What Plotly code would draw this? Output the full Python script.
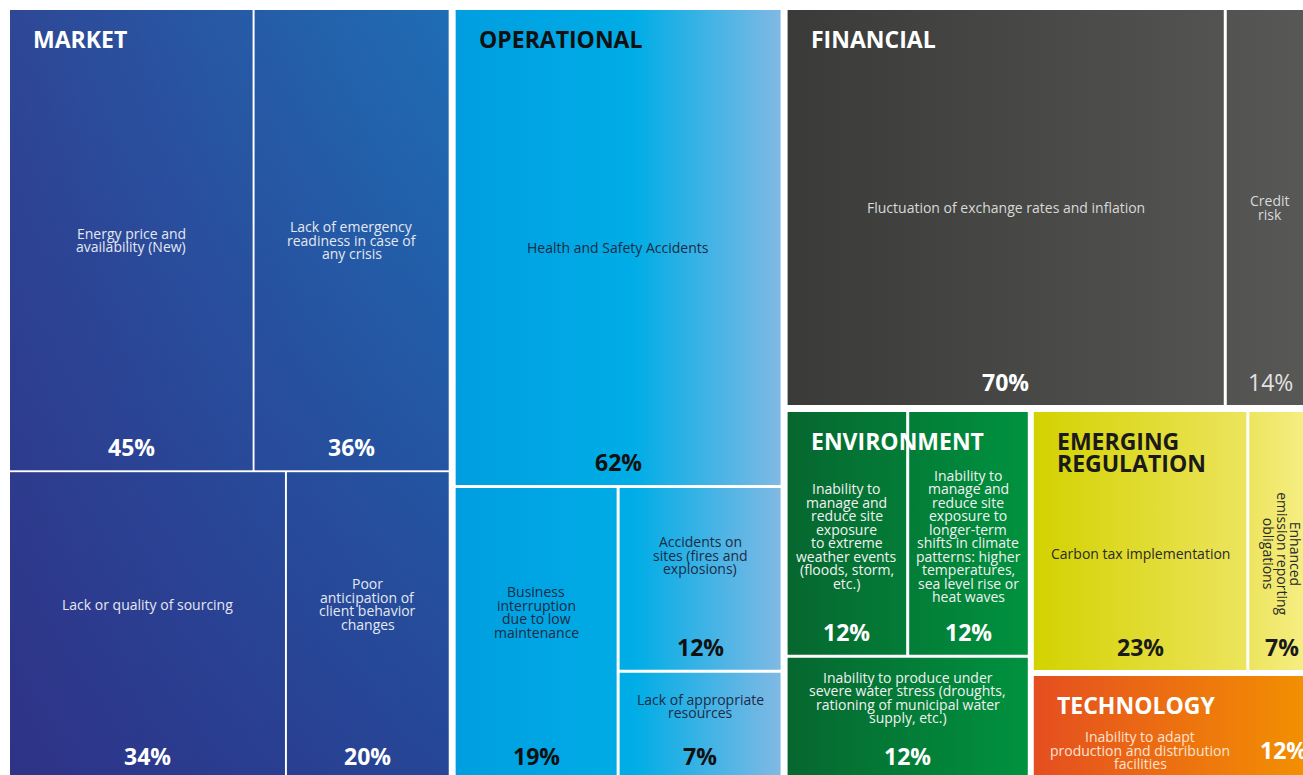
import plotly.graph_objects as go

# ---- datos (porcentajes de riesgo por categoría) ----
group_names = ["MARKET", "OPERATIONAL", "FINANCIAL", "ENVIRONMENT", "EMERGING<br>REGULATION", "TECHNOLOGY"]

market_risks = ["Energy price and<br>availability (New)",
                "Lack of emergency<br>readiness in case of<br>any crisis",
                "Lack or quality of sourcing",
                "Poor<br>anticipation of<br>client behavior<br>changes"]
market_pct = [45, 36, 34, 20]

operational_risks = ["Health and Safety Accidents",
                     "Business<br>interruption<br>due to low<br>maintenance",
                     "Accidents on<br>sites (fires and<br>explosions)",
                     "Lack of appropriate<br>resources"]
operational_pct = [62, 19, 12, 7]

financial_risks = ["Fluctuation of exchange rates and inflation", "Credit<br>risk"]
financial_pct = [70, 14]

environment_risks = ["Inability to<br>manage and<br>reduce site<br>exposure<br>to extreme<br>weather events<br>(floods, storm,<br>etc.)",
                     "Inability to<br>manage and<br>reduce site<br>exposure to<br>longer-term<br>shifts in climate<br>patterns: higher<br>temperatures,<br>sea level rise or<br>heat waves",
                     "Inability to produce under<br>severe water stress (droughts,<br>rationing of municipal water<br>supply, etc.)"]
environment_pct = [12, 12, 12]

regulation_risks = ["Carbon tax implementation", "Enhanced<br>emission reporting<br>obligations"]
regulation_pct = [23, 7]

technology_risks = ["Inability to adapt<br>production and distribution<br>facilities"]
technology_pct = [12]

keys = ["market", "operational", "financial", "environment", "regulation", "technology"]
risks = dict(zip(keys, [market_risks, operational_risks, financial_risks,
                        environment_risks, regulation_risks, technology_risks]))
pcts = dict(zip(keys, [market_pct, operational_pct, financial_pct,
                       environment_pct, regulation_pct, technology_pct]))
titles = dict(zip(keys, group_names))

# ---- estructura del treemap (corte horizontal/vertical, separación) ----
def L(g, i):
    return ("leaf", g, i)

tree = ("h", 7, [
    ("v", 2, [("h", 2, [L("market", 0), L("market", 1)]),
              ("h", 2, [L("market", 2), L("market", 3)])]),
    ("v", 3, [L("operational", 0),
              ("h", 3, [L("operational", 1),
                        ("v", 3, [L("operational", 2), L("operational", 3)])])]),
    ("v", 7, [("h", 3, [L("financial", 0), L("financial", 1)]),
              ("h", 6, [("v", 3, [("h", 3, [L("environment", 0), L("environment", 1)]),
                                  L("environment", 2)]),
                        ("v", 6, [("h", 3, [L("regulation", 0), L("regulation", 1)]),
                                  L("technology", 0)])])]),
])


def valor(node):
    if node[0] == "leaf":
        return pcts[node[1]][node[2]]
    return sum(valor(c) for c in node[2])


def layout(node, x0, y0, x1, y1, out):
    if node[0] == "leaf":
        out.append((node[1], node[2], x0, y0, x1, y1))
        return
    kind, gap, children = node
    vals = [valor(c) for c in children]
    tot = sum(vals)
    if kind == "h":
        avail = (x1 - x0) - gap * (len(children) - 1)
        pos = x0
        for c, v in zip(children, vals):
            w = avail * v / tot
            layout(c, pos, y0, pos + w, y1, out)
            pos += w + gap
    else:
        avail = (y1 - y0) - gap * (len(children) - 1)
        pos = y0
        for c, v in zip(children, vals):
            h = avail * v / tot
            layout(c, x0, pos, x1, pos + h, out)
            pos += h + gap


cells = []
layout(tree, 10, 10, 1314, 779, cells)

# ---- estilos ----
estilos = {
    "market": dict(scale=[[0, "#2e4796"], [1, "#1f6db5"]],
                   overlay=[[0, "rgba(46,30,120,0)"], [1, "rgba(46,30,120,0.5)"]],
                   desc="#e4e8f2", pct="#ffffff", head="#ffffff"),
    "operational": dict(scale=[[0, "#009ee0"], [0.55, "#00ade6"], [1, "#80b9e4"]],
                        desc="#1c2b45", pct="#111111", head="#111111"),
    "financial": dict(scale=[[0, "#3a3a39"], [1, "#585857"]],
                      desc="#d9d9d9", pct="#ffffff", head="#ffffff"),
    "environment": dict(scale=[[0, "#06672f"], [1, "#00923f"]],
                        desc="#f2f2f2", pct="#ffffff", head="#ffffff"),
    "regulation": dict(scale=[[0, "#d3d200"], [0.75, "#ece45c"], [1, "#f7ef88"]],
                       desc="#2a2a2a", pct="#1a1a1a", head="#1a1a1a"),
    "technology": dict(scale=[[0, "#e54e20"], [1, "#f39200"]],
                       desc="#fde3d2", pct="#ffffff", head="#ffffff"),
}
# posición vertical del texto descriptivo (fracción de la altura de la celda)
desc_frac = {("market", 2): 0.43, ("market", 3): 0.43,
             ("operational", 1): 0.426, ("operational", 2): 0.37, ("operational", 3): 0.31,
             ("environment", 0): 0.51, ("environment", 1): 0.51, ("environment", 2): 0.33,
             ("regulation", 0): 0.55, ("regulation", 1): 0.55,
             ("technology", 0): 0.72}

FONT = "Open Sans"
DESC_SIZE = 14
BIG_SIZE = 23
LINE = 13.5
fig = go.Figure()
anns = []

# límites de cada grupo (para el degradado y el título)
bbox = {}
for g, i, x0, y0, x1, y1 in cells:
    b = bbox.get(g, [x0, y0, x1, y1])
    bbox[g] = [min(b[0], x0), min(b[1], y0), max(b[2], x1), max(b[3], y1)]


def lineas(texto, x, yc, size, color, spacing, weight=400, xanchor="center", angle=0):
    parts = texto.split("<br>")
    n = len(parts)
    for k, t in enumerate(parts):
        off = (k - (n - 1) / 2) * spacing
        if angle:
            ax, ay = x - off, yc
        else:
            ax, ay = x, yc + off
        anns.append(dict(x=ax, y=ay, xref="x", yref="y", text=t, showarrow=False,
                         xanchor=xanchor, yanchor="middle", textangle=angle,
                         font=dict(family=FONT, size=size, color=color, weight=weight)))


for g, i, x0, y0, x1, y1 in cells:
    st = estilos[g]
    gx0, gx1 = bbox[g][0], bbox[g][2]
    xs = [x0, x1, x1, x0, x0]
    ys = [y0, y0, y1, y1, y0]
    label = risks[g][i].replace("<br>", " ")
    fig.add_trace(go.Scatter(
        x=xs, y=ys, mode="none", fill="toself",
        fillgradient=dict(type="horizontal", colorscale=st["scale"], start=gx0, stop=gx1),
        hovertemplate=f"<b>{label}</b><br>{pcts[g][i]}%<extra></extra>",
    ))
    if "overlay" in st:
        fig.add_trace(go.Scatter(
            x=xs, y=ys, mode="none", fill="toself", hoverinfo="skip",
            fillgradient=dict(type="vertical", colorscale=st["overlay"],
                              start=bbox[g][1], stop=bbox[g][3]),
        ))

    cx = (x0 + x1) / 2
    fr = desc_frac.get((g, i), 0.5)
    yd = y0 + fr * (y1 - y0)
    pct_txt = f"{pcts[g][i]}%"
    if g == "technology":
        w = x1 - x0
        lineas(risks[g][i], x0 + 0.38 * w, yd, DESC_SIZE, st["desc"], LINE)
        lineas(pct_txt, x0 + 0.89 * w, yd, BIG_SIZE, st["pct"], 0, weight=700)
    elif g == "regulation" and i == 1:
        lineas(risks[g][i], cx, yd, DESC_SIZE, st["desc"], LINE, angle=90)
        lineas(pct_txt, cx, y1 - 23, BIG_SIZE, st["pct"], 0, weight=700)
    else:
        lineas(risks[g][i], cx, yd, DESC_SIZE, st["desc"], LINE)
        if g == "financial" and i == 1:
            lineas(pct_txt, cx, y1 - 23, BIG_SIZE, "#e2e2e2", 0, weight=400)
        else:
            lineas(pct_txt, cx, y1 - 23, BIG_SIZE, st["pct"], 0, weight=700)

# títulos de grupo
for g in keys:
    bx0, by0 = bbox[g][0], bbox[g][1]
    n = len(titles[g].split("<br>"))
    lineas(titles[g], bx0 + 21, by0 + 29 + (n - 1) * 11, BIG_SIZE, estilos[g]["head"], 22,
           weight=700, xanchor="left")

fig.update_layout(
    width=1303, height=775,
    margin=dict(l=0, r=0, t=0, b=0),
    paper_bgcolor="white", plot_bgcolor="white",
    xaxis=dict(range=[0, 1303], visible=False, fixedrange=True),
    yaxis=dict(range=[775, 0], visible=False, fixedrange=True),
    showlegend=False,
    annotations=anns,
)

# sin el margen por defecto del <body> la figura llena la ventana
fig.write_html("out.html", config={"displayModeBar": False},
               post_script="document.body.style.margin='0';document.body.style.overflow='hidden';")
